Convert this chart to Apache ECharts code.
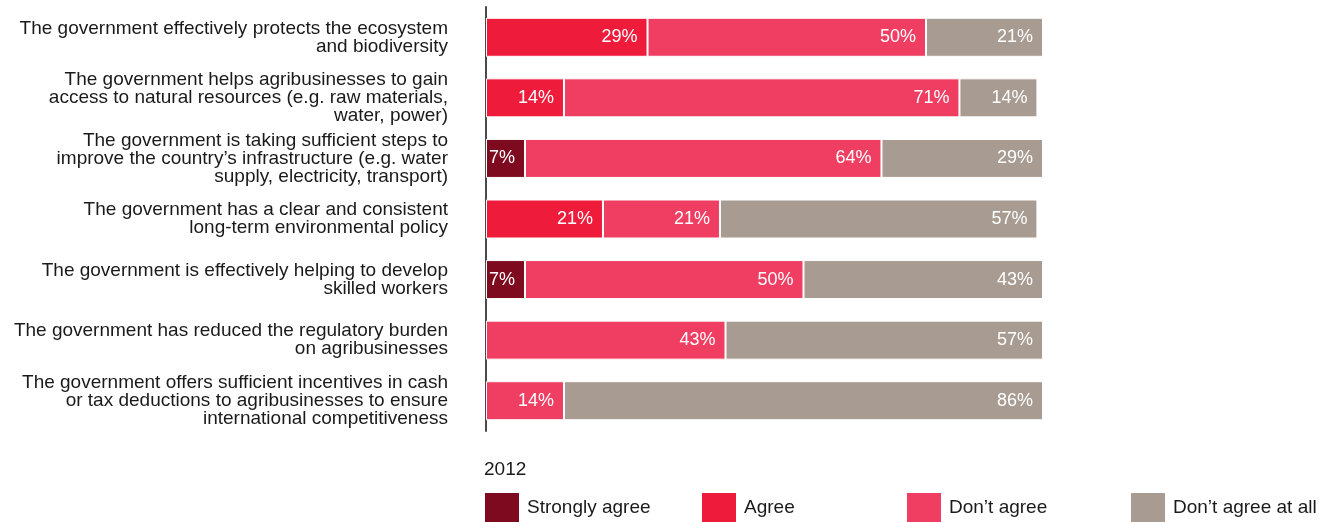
<!DOCTYPE html>
<html>
<head>
<meta charset="utf-8">
<script src="https://cdn.jsdelivr.net/npm/echarts@6/dist/echarts.min.js"></script>
<style>
  html, body { margin: 0; padding: 0; background: #fff; }
  #chart { width: 1322px; height: 522px; }
</style>
</head>
<body>
<div id="chart"></div>
<script>
// Survey statements (top to bottom)
const statements = [
  'The government effectively protects the ecosystem\nand biodiversity',
  'The government helps agribusinesses to gain\naccess to natural resources (e.g. raw materials,\nwater, power)',
  'The government is taking sufficient steps to\nimprove the country\u2019s infrastructure (e.g. water\nsupply, electricity, transport)',
  'The government has a clear and consistent\nlong-term environmental policy',
  'The government is effectively helping to develop\nskilled workers',
  'The government has reduced the regulatory burden\non agribusinesses',
  'The government offers sufficient incentives in cash\nor tax deductions to agribusinesses to ensure\ninternational competitiveness'
];

// Share of respondents (%), null where no answer in that group
const stronglyAgree   = [null, null, 7, null, 7, null, null];
const agree           = [29, 14, null, 21, null, null, null];
const dontAgree       = [50, 71, 64, 21, 50, 43, 14];
const dontAgreeAtAll  = [21, 14, 29, 57, 43, 57, 86];

const seriesNames = ['Strongly agree', 'Agree', 'Don\u2019t agree', 'Don\u2019t agree at all'];
const yearLabel = '2012';

const colors = ['#7d0a1f', '#ee1b3a', '#ef3e61', '#a89b91'];
const FONT = '"Liberation Sans", Arial, Helvetica, sans-serif';

const chart = echarts.init(document.getElementById('chart'), null, { renderer: 'canvas' });

function barSeries(name, values, color) {
  return {
    name: name,
    type: 'bar',
    stack: 'total',
    barWidth: 39,
    data: values,
    itemStyle: { color: color, borderColor: '#ffffff', borderWidth: 1 },
    label: {
      show: true,
      position: 'insideRight',
      distance: 10,
      color: '#ffffff',
      fontFamily: FONT,
      fontSize: 18,
      formatter: '{c}%'
    },
    emphasis: { disabled: true }
  };
}

const legendLefts = [485, 702, 907, 1131];

chart.setOption({
  animation: false,
  color: colors,
  title: {
    text: yearLabel,
    left: 484,
    top: 460,
    padding: 0,
    textStyle: { fontFamily: FONT, fontSize: 19, fontWeight: 'normal', color: '#1a1a1a' }
  },
  legend: seriesNames.map((n, i) => ({
    data: [n],
    left: legendLefts[i],
    top: 493,
    padding: 0,
    icon: 'rect',
    itemWidth: 34,
    itemHeight: 30,
    itemStyle: { borderWidth: 0 },
    selectedMode: false,
    textStyle: { fontFamily: FONT, fontSize: 19, color: '#1a1a1a', padding: [14, 0, 0, 3] }
  })),
  grid: { left: 486, right: 279, top: 7, bottom: 91, containLabel: false },
  xAxis: {
    type: 'value',
    min: 0,
    max: 100,
    show: false
  },
  yAxis: {
    type: 'category',
    inverse: true,
    data: statements,
    axisLine: { show: true, lineStyle: { color: '#4a4a4a', width: 2 } },
    axisTick: { show: false },
    axisLabel: {
      margin: 38,
      align: 'right',
      fontFamily: FONT,
      fontSize: 19,
      lineHeight: 18,
      color: '#1a1a1a'
    }
  },
  series: [
    barSeries(seriesNames[0], stronglyAgree, colors[0]),
    barSeries(seriesNames[1], agree, colors[1]),
    barSeries(seriesNames[2], dontAgree, colors[2]),
    barSeries(seriesNames[3], dontAgreeAtAll, colors[3])
  ]
});
</script>
</body>
</html>
